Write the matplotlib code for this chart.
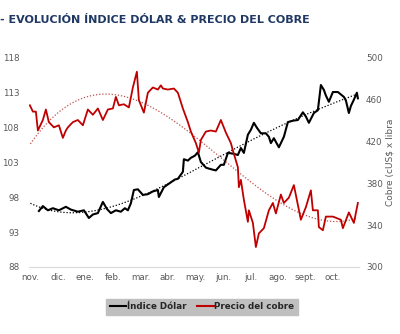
import numpy as np
import matplotlib.pyplot as plt

months = ['nov.', 'dic.', 'ene.', 'feb.', 'mar.', 'abr.', 'may.', 'jun.',
          'jul.', 'ago.', 'sept.', 'oct.']

dxy_px = [38, 42, 47, 52, 58, 65, 70, 77, 83, 88, 92, 97, 102, 106, 110, 115,
          120, 124, 127, 130, 133, 137, 142, 147, 152, 157, 158, 163, 167, 170,
          174, 177, 182, 183, 187, 190, 194, 197, 200, 205, 207, 212, 215, 220,
          223, 227, 232, 237, 240, 243, 247, 250, 253, 256, 260, 265, 268, 270,
          273, 278, 283, 287, 292, 297, 302, 305, 308, 313, 317, 320, 323, 325,
          328, 332, 337, 343, 345, 348, 350, 353, 356, 357]
dxy = [96.0, 96.7, 96.1, 96.4, 96.1, 96.6, 96.2, 95.9, 96.1, 95.0, 95.5, 95.7,
       97.3, 96.3, 95.7, 96.1, 95.9, 96.4, 96.1, 97.1, 99.0, 99.1, 98.3, 98.4,
       98.8, 99.0, 98.0, 99.4, 99.8, 100.1, 100.5, 100.6, 101.6, 103.4, 103.2,
       103.6, 103.9, 104.4, 103.0, 102.2, 102.1, 101.9, 101.8, 102.6, 102.6,
       104.3, 104.2, 104.0, 105.0, 104.3, 106.9, 107.6, 108.6, 107.9, 107.1,
       107.1, 106.6, 105.7, 106.4, 105.1, 106.6, 108.7, 108.9, 109.0, 110.1,
       109.5, 108.6, 110.0, 110.4, 114.0, 113.3, 112.5, 111.6, 113.0, 113.0,
       112.3, 111.8, 110.0, 111.0, 111.9, 112.9, 112.1]

cu_px = [29, 32, 35, 37, 40, 42, 45, 48, 53, 58, 62, 65, 67, 72, 77, 82, 87,
         92, 97, 102, 107, 112, 115, 118, 123, 128, 132, 136, 138, 143, 147,
         152, 157, 160, 162, 167, 173, 177, 182, 187, 190, 195, 198, 200, 205,
         210, 215, 220, 225, 230, 232, 237, 238, 240, 243, 247, 248, 252, 255,
         258, 263, 268, 272, 275, 280, 283, 288, 293, 300, 305, 310, 312, 317,
         318, 322, 325, 332, 340, 342, 348, 353, 357]
copper = [454, 448, 448, 430, 436, 440, 450, 438, 433, 435, 423, 430, 433, 438,
          440, 435, 450, 445, 451, 440, 450, 451, 462, 454, 455, 452, 471, 486,
          459, 447, 466, 471, 469, 473, 470, 469, 470, 466, 451, 438, 429, 418,
          409, 421, 429, 430, 429, 440, 428, 418, 411, 395, 376, 383, 364, 343,
          354, 342, 319, 332, 337, 354, 361, 351, 369, 361, 366, 378, 345, 357,
          373, 354, 354, 338, 335, 348, 348, 345, 337, 352, 342, 361]

x0, month_w = 29.5, 27.5
x_dxy = (np.array(dxy_px) - x0) / month_w
x_cu = (np.array(cu_px) - x0) / month_w

fig = plt.figure(figsize=(4, 3.34), dpi=100)
ax = fig.add_axes((0.0725, 0.2006, 0.825, 0.6287))
ax2 = ax.twinx()

gray = '#595959'
red = '#c00000'

ax.plot(x_dxy, dxy, color='black', lw=1.5, zorder=3)
ax2.plot(x_cu, copper, color=red, lw=1.3, zorder=3)

# polynomial trend lines
xx = np.linspace(0, x_cu.max(), 200)
p_dxy = np.polyfit(x_dxy, dxy, 4)
ax.plot(xx, np.polyval(p_dxy, xx), color='black', lw=0.9, ls=(0, (1, 1.5)), zorder=2)
p_cu = np.polyfit(x_cu, copper, 3)
ax2.plot(xx, np.polyval(p_cu, xx), color='#c0504d', lw=0.9, ls=(0, (1, 1.5)), zorder=2)

ax.set_xlim(-0.05, 11.95)
ax.set_ylim(88, 118)
ax.set_yticks(np.arange(88, 119, 5))
ax2.set_ylim(300, 500)
ax2.set_yticks(np.arange(300, 501, 40))
ax.set_xticks(np.arange(12))
ax.set_xticklabels(months)

for a in (ax, ax2):
    for s in a.spines.values():
        s.set_visible(False)
    a.tick_params(length=0, colors=gray, labelsize=6.3)
ax.spines['bottom'].set_visible(True)
ax.spines['bottom'].set_color('#d9d9d9')
ax.spines['bottom'].set_linewidth(0.8)
ax.tick_params(axis='y', pad=7)
ax.tick_params(axis='x', pad=4)
ax2.tick_params(axis='y', pad=5)
ax2.set_ylabel(r'Cobre (cUS\$ x libra', color=gray, fontsize=6.5, labelpad=2)

fig.text(0.0, 0.94, '- EVOLUCIÓN ÍNDICE DÓLAR & PRECIO DEL COBRE',
         color='#1f3864', fontsize=8.0, fontweight='bold', va='center')

h1, = ax.plot([], [], color='black', lw=1.5)
h2, = ax.plot([], [], color=red, lw=1.5)
leg = fig.legend([h1, h2], ['Índice Dólar', 'Precio del cobre'],
                 loc='center', bbox_to_anchor=(0.505, 0.081), ncol=2,
                 frameon=True, fancybox=False, facecolor='#bfbfbf',
                 edgecolor='#bfbfbf', framealpha=1,
                 prop={'size': 6.3, 'weight': 'bold'},
                 handlelength=1.9, handletextpad=0.1, columnspacing=1.2,
                 borderpad=0.45)
for t in leg.get_texts():
    t.set_color('#262626')

fig.savefig('out.png', dpi=100)
